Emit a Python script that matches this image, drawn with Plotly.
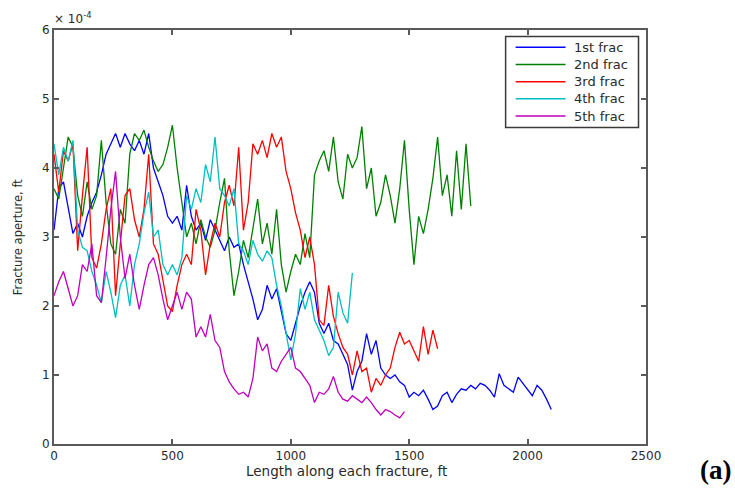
import plotly.graph_objects as go

STEP = 20  # ft between samples along each fracture

names = ["1st frac", "2nd frac", "3rd frac", "4th frac", "5th frac"]
colors = ["#0000ff", "#008000", "#ff0000", "#00bfbf", "#bf00bf"]

# aperture values in units of 1e-4 ft, sampled every STEP ft from 0
frac1 = [3.1, 3.7, 3.8, 3.4, 3.05, 3.2, 3.0, 3.3, 3.5, 3.65,
         3.9, 4.2, 4.35, 4.5, 4.3, 4.5, 4.35, 4.25, 4.4, 4.2,
         4.5, 4.0, 3.8, 3.6, 3.3, 3.2, 3.3, 3.1, 3.75, 3.3,
         3.1, 3.2, 2.95, 3.25, 3.1, 2.95, 2.8, 3.0, 2.85, 2.9,
         2.6, 2.35, 2.1, 1.8, 1.95, 2.3, 2.1, 2.25, 1.9, 1.6,
         1.5, 1.75, 2.0, 2.2, 2.35, 2.2, 1.75, 1.6, 1.75, 1.5,
         1.45, 1.3, 1.15, 0.78, 1.05, 1.2, 1.6, 1.3, 1.5, 1.1,
         1.0, 0.95, 1.0, 0.9, 0.85, 0.68, 0.75, 0.7, 0.78, 0.65,
         0.5, 0.55, 0.7, 0.75, 0.6, 0.72, 0.8, 0.78, 0.85, 0.8,
         0.88, 0.85, 0.78, 0.68, 1.02, 0.85, 0.8, 0.75, 0.97, 0.88,
         0.8, 0.7, 0.85, 0.78, 0.65, 0.5]

frac2 = [3.7, 3.55, 4.0, 4.45, 4.3, 3.6, 3.3, 3.8, 3.4, 3.6,
         4.4, 3.5, 2.9, 2.75, 3.4, 3.2, 4.2, 4.5, 4.4, 4.55,
         4.3, 4.1, 3.95, 4.05, 4.3, 4.62, 4.0, 3.5, 3.0, 3.2,
         2.9, 3.25, 3.0, 2.85, 3.1, 3.5, 3.85, 2.8, 2.15, 2.5,
         2.95, 2.7, 3.1, 3.55, 2.9, 3.2, 2.75, 3.4, 2.6, 2.2,
         2.5, 2.75, 2.6, 3.05, 2.7, 3.9, 4.1, 4.25, 3.95, 4.45,
         3.8, 3.55, 4.2, 4.0, 4.15, 4.6, 3.7, 4.0, 3.3, 3.5,
         3.9, 3.6, 3.2, 3.7, 4.4, 3.4, 2.6, 3.3, 3.05, 3.4,
         3.85, 4.45, 3.6, 3.9, 3.3, 4.25, 3.4, 4.35, 3.45]

frac3 = [4.2, 3.65, 4.25, 4.1, 4.35, 2.8, 3.6, 4.3, 2.7, 2.55,
         2.9, 3.4, 3.7, 2.15, 2.9, 3.6, 3.7, 3.25, 3.0, 3.4,
         4.2, 2.9, 2.75, 2.4, 2.0, 1.92, 2.3, 2.6, 2.75, 2.6,
         3.4, 3.1, 2.45, 2.9, 3.2, 3.0, 3.5, 3.75, 3.45, 4.3,
         3.1, 3.5, 4.35, 4.2, 4.4, 4.15, 4.5, 4.3, 4.45, 3.95,
         3.7, 3.35, 3.1, 2.7, 3.0, 2.6, 1.8, 1.72, 2.3, 1.85,
         1.6, 1.4, 1.3, 1.0, 1.35, 1.05, 1.1, 0.75, 0.95, 0.85,
         1.0, 1.1, 1.4, 1.62, 1.45, 1.5, 1.35, 1.2, 1.7, 1.3,
         1.65, 1.38]

frac4 = [4.35, 3.9, 4.3, 4.1, 4.4, 3.1, 2.85, 2.8, 2.5, 2.3,
         2.05, 2.5, 2.2, 1.83, 2.3, 2.45, 2.0, 2.6, 2.9, 3.35,
         3.65, 3.0, 3.1, 2.6, 2.45, 2.6, 2.45, 2.7, 3.6, 3.4,
         3.7, 3.5, 4.05, 3.8, 4.45, 3.7, 3.6, 3.45, 3.7, 2.9,
         2.8, 2.6, 2.95, 2.75, 2.65, 2.8, 2.7, 2.3, 2.0, 1.6,
         1.22, 1.6, 2.25, 1.95, 2.2, 1.8, 1.65, 1.5, 1.28, 1.4,
         2.2, 1.9, 1.75, 2.48]

frac5 = [2.15, 2.35, 2.5, 2.25, 2.0, 2.15, 2.6, 2.5, 2.9, 2.15,
         2.05, 2.7, 3.4, 3.95, 3.0, 2.4, 2.75, 2.3, 1.95, 2.3,
         2.6, 2.7, 2.45, 2.1, 1.8, 2.0, 2.2, 1.95, 2.2, 2.1,
         1.55, 1.7, 1.55, 1.88, 1.5, 1.4, 1.05, 0.9, 0.8, 0.72,
         0.75, 0.68, 0.95, 1.55, 1.35, 1.45, 1.1, 1.05, 1.2, 1.3,
         1.4, 1.1, 1.05, 0.95, 0.85, 0.6, 0.75, 0.72, 0.8, 0.98,
         0.75, 0.65, 0.62, 0.7, 0.65, 0.6, 0.68, 0.6, 0.5, 0.42,
         0.5, 0.47, 0.42, 0.38, 0.47]

series = [frac1, frac2, frac3, frac4, frac5]

x_ticks = [0, 500, 1000, 1500, 2000, 2500]
y_ticks = [0, 1, 2, 3, 4, 5, 6]

FONT = "DejaVu Sans, Verdana, sans-serif"
TXT = "#2a2a2a"
AX = "#5a5a5a"

W, H = 735, 492
L, R, T, B = 54, 88.5, 29.5, 48
PW, PH = W - L - R, H - T - B


def px(xp):
    return (xp - L) / PW


def py(yp):
    return (H - B - yp) / PH


fig = go.Figure()
for name, col, ys in zip(names, colors, series):
    xs = [i * STEP for i in range(len(ys))]
    fig.add_trace(go.Scatter(x=xs, y=ys, mode="lines", name=name,
                             line=dict(color=col, width=1.3),
                             showlegend=False))

axis_common = dict(showgrid=False, zeroline=False, showline=True,
                   linecolor=AX, linewidth=2, mirror="ticks",
                   ticks="inside", ticklen=5, tickcolor=AX, tickwidth=1.5,
                   tickfont=dict(family=FONT, size=12, color=TXT),
                   automargin=False)

fig.update_xaxes(range=[0, 2500], tickvals=x_ticks, **axis_common)
fig.update_yaxes(range=[0, 6], tickvals=y_ticks, **axis_common)

# axis titles
fig.add_annotation(text="Length along each fracture, ft", xref="paper", yref="paper",
                   x=px(347), y=py(471.5), xanchor="center", yanchor="middle",
                   showarrow=False, font=dict(family=FONT, size=13.5, color=TXT))
fig.add_annotation(text="Fracture aperture, ft", xref="paper", yref="paper",
                   x=px(18), y=py(237), xanchor="center", yanchor="middle",
                   textangle=-90, showarrow=False,
                   font=dict(family=FONT, size=11.5, color=TXT))
fig.add_annotation(text="× 10<sup>-4</sup>", xref="paper", yref="paper",
                   x=px(52), y=py(27), xanchor="left", yanchor="bottom",
                   showarrow=False, font=dict(family=FONT, size=12, color=TXT))
fig.add_annotation(text="<b>(a)</b>", xref="paper", yref="paper",
                   x=px(734), y=py(470), xanchor="right", yanchor="middle",
                   showarrow=False,
                   font=dict(family="Liberation Serif, Times New Roman, serif",
                             size=27, color="#000000"))

# legend box (matlab style)
fig.add_shape(type="rect", xref="paper", yref="paper",
              x0=px(506), x1=px(639), y0=py(127), y1=py(36),
              line=dict(color="#3a3a3a", width=1.5), fillcolor="white", layer="above")
for i, (name, col) in enumerate(zip(names, colors)):
    yy = 46.7 + 17.25 * i
    fig.add_shape(type="line", xref="paper", yref="paper",
                  x0=px(516), x1=px(566), y0=py(yy), y1=py(yy),
                  line=dict(color=col, width=1.5), layer="above")
    fig.add_annotation(text=name, xref="paper", yref="paper",
                       x=px(572), y=py(yy), xanchor="left", yanchor="middle",
                       showarrow=False, font=dict(family=FONT, size=13, color=TXT))

fig.update_layout(
    width=W, height=H,
    margin=dict(l=L, r=R, t=T, b=B, autoexpand=False),
    plot_bgcolor="white", paper_bgcolor="white",
    showlegend=False,
)

fig.write_html("out.html",
               config={"displayModeBar": False},
               post_script="document.body.style.margin='0px';"
                           "document.body.style.overflow='hidden';")
